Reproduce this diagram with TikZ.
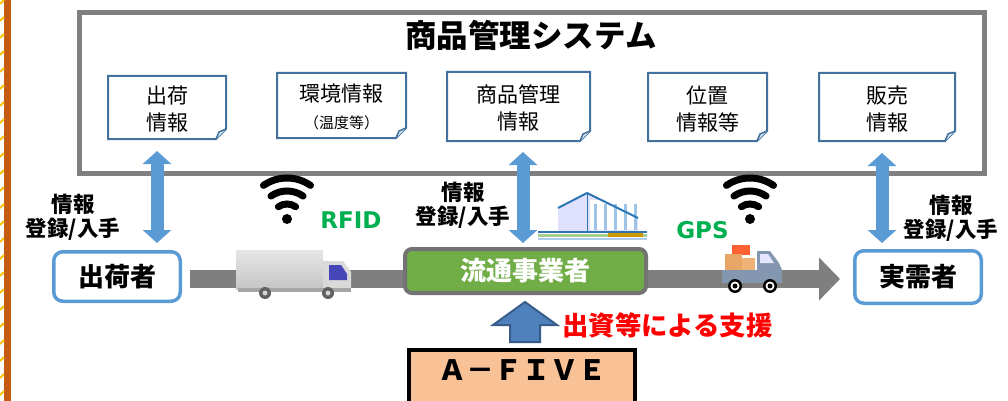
\documentclass[tikz,border=0pt]{standalone}
\usepackage{fontspec}
\setmainfont{Noto Sans CJK JP}
\newfontfamily\tagfont{DejaVu Sans}
\usepackage{tikz}
\usetikzlibrary{arrows.meta,positioning,calc}
\definecolor{framegray}{HTML}{808080}
\definecolor{memoblue}{HTML}{41719C}
\definecolor{linkblue}{HTML}{5B9BD5}
\definecolor{bandgray}{HTML}{7F7F7F}
\definecolor{bizgreen}{HTML}{70AD47}
\definecolor{taggreen}{HTML}{00B050}
\definecolor{fundblue}{HTML}{4F81BD}
\definecolor{funddark}{HTML}{385D8A}
\definecolor{peach}{HTML}{F8C196}
\definecolor{rust}{HTML}{C55A11}
\definecolor{gold}{HTML}{FFC000}
\definecolor{truckblue}{HTML}{8497B0}
\definecolor{roofblue}{HTML}{2E75B6}
\tikzset{
  memo/.style 2 args={minimum width=#1, minimum height=#2, inner sep=0pt, outer sep=0pt, align=center,
    font=\fontsize{21pt}{27pt}\selectfont, execute at begin node={\rule{0pt}{48pt}}},
  memoline/.style={draw=memoblue, line width=2pt},
  actor/.style={draw=linkblue, line width=3.5pt, rounded corners=9pt, fill=white, inner sep=0pt,
    font=\fontsize{26pt}{30pt}\selectfont\bfseries},
  infotext/.style={align=center, inner sep=0pt, font=\fontsize{21.5pt}{24pt}\selectfont\bfseries},
  tagtext/.style={inner sep=0pt, text=taggreen, font=\fontsize{23pt}{26pt}\selectfont\tagfont\bfseries},
  infoarrow/.style={linkblue, line width=13pt,
    {Triangle[length=13pt,width=28pt]}-{Triangle[length=13pt,width=28pt]}},
  flowband/.style={bandgray, line width=18pt, -{Triangle[length=21pt,width=42pt]}},
  signal/.style={line width=7pt, line cap=round},
}

\begin{document}
\begin{tikzpicture}[x=1pt, y=-1pt]
  \useasboundingbox (0,0) rectangle (1008,401);

  \fill[rust] (4,0) rectangle (11,401);
  \foreach \y in {0,17,...,400}
    \draw[gold, line width=2pt] (0,\y+4) -- (4,\y);

  \node[draw=framegray, line width=5pt, minimum width=905pt, minimum height=161pt] (sys) at (532,93) {};
  \node[inner sep=0pt, font=\fontsize{31.5pt}{34pt}\selectfont\bfseries] (title) at (531,35) {商品管理システム};

  \node[memo={118pt}{63pt}] (m1) at (167,107.5) {出荷\\情報};
  \node[memo={129pt}{65pt}] (m2) at (341.5,105.5) {環境情報\\{\fontsize{15pt}{17pt}\selectfont （温度等）}};
  \node[memo={143pt}{69pt}] (m3) at (518.5,106.5) {商品管理\\情報};
  \node[memo={119pt}{68pt}] (m4) at (707.5,107) {位置\\情報等};
  \node[memo={136pt}{68pt}] (m5) at (887,107) {販売\\情報};
  \foreach \m in {m1,m2,m3,m4,m5} {
    \draw[memoline] (\m.north west) -- (\m.north east) -- ([yshift=10pt]\m.south east)
      -- ([xshift=-10pt]\m.south east) -- (\m.south west) -- cycle;
    \draw[memoline, line width=1.5pt, fill=linkblue!25] ([xshift=-10pt]\m.south east)
      -- ([xshift=-7pt,yshift=7pt]\m.south east) -- ([yshift=10pt]\m.south east);
  }

  \node[actor, minimum width=126.5pt, minimum height=49.5pt] (shipper) at (117,276.5) {出荷者};
  \node[actor, minimum width=126.5pt, minimum height=52.5pt] (consumer) at (918,277) {実需者};

  \draw[flowband] ([xshift=8pt,yshift=-2.5pt]shipper.east) -- ([xshift=-13pt,yshift=-2pt]consumer.west);

  \node[draw=gray!90!black, line width=4pt, rounded corners=7pt, fill=bizgreen, text=white, inner sep=0pt,
    minimum width=241pt, minimum height=44pt, font=\fontsize{26pt}{30pt}\selectfont\bfseries] (dist) at (525.5,271) {流通事業者};

  \draw[infoarrow] ([xshift=-10pt,yshift=-12pt]m1.south) -- ([xshift=40pt,yshift=7pt]shipper.north);
  \draw[infoarrow] ([xshift=4.5pt,yshift=-11pt]m3.south) -- ([xshift=-2.5pt,yshift=4pt]dist.north);
  \draw[infoarrow] ([xshift=-5pt,yshift=-12pt]m5.south) -- ([xshift=-36pt,yshift=6pt]consumer.north);

  \node[infotext] (info1) at (73,217) {情報\\登録/入手};
  \node[infotext] (info2) at (463,205) {情報\\登録/入手};
  \node[infotext] (info3) at (951,218) {情報\\登録/入手};

  \node[tagtext] (rfid) at (351,220) {RFID};
  \node[tagtext] (gps) at (702.5,230) {GPS};

  % radio waves
  \foreach \cx/\cy in {287/219, 750/219} {
    \fill (\cx,\cy) circle (5pt);
    \foreach \r in {15,28,41}
      \draw[signal] ($(\cx,\cy)+(-125:\r)$) arc[start angle=-125, end angle=-55, radius=\r];
  }

  % box truck
  \begin{scope}[shift={(235,248)}]
    \shade[top color=gray!20, bottom color=gray!45] (1,2) rectangle (88,41);
    \fill[gray!30] (88,13) -- (108,13) -- (116,24) -- (116,41) -- (88,41) -- cycle;
    \fill[blue!45!gray] (94,17) -- (106,17) -- (112,26) -- (112,32) -- (94,32) -- cycle;
    \fill[gray!70] (3,40) rectangle (116,44);
    \foreach \wx in {30,93} {
      \fill[gray!75!black] (\wx,45) circle (6pt);
      \fill[gray!35] (\wx,45) circle (2.5pt);
    }
  \end{scope}

  % pickup with parcels
  \begin{scope}[shift={(722,243)}]
    \fill[red!55!orange!80] (10,2) rectangle (28,12);
    \fill[brown!55!orange!70] (3,11) rectangle (20,27);
    \fill[brown!45!orange!60] (20,15) rectangle (33,27);
    \fill[truckblue] (35,27) -- (35,8) -- (48,8) -- (57,20) -- (60,27) -- cycle;
    \fill[blue!10] (38,11) -- (46,11) -- (52,20) -- (38,20) -- cycle;
    \fill[truckblue] (0,27) rectangle (60,40);
    \foreach \wx in {13,48} {
      \fill[black] (\wx,43) circle (7pt);
      \fill[white] (\wx,43) circle (4.5pt);
      \fill[black] (\wx,43) circle (2.5pt);
    }
  \end{scope}

  % warehouse
  \begin{scope}[shift={(538,192)}]
    \fill[blue!12] (20,16) -- (49,1) -- (100,26) -- (100,40) -- (20,40) -- cycle;
    \fill[white] (52,8) rectangle (96,38);
    \foreach \wx in {56,66,...,96}
      \fill[linkblue!60] (\wx,12) rectangle (\wx+3,38);
    \draw[roofblue, line width=2pt] (20,16) -- (49,1) -- (100,26);
    \draw[roofblue, line width=1pt] (49,1) -- (49,40);
    \fill[roofblue] (0,39) rectangle (109,41);
    \fill[bizgreen!60] (0,42) rectangle (109,45);
    \fill[linkblue!50] (0,46) rectangle (109,48);
    \fill[gold!80!black] (70,41) rectangle (105,45);
  \end{scope}

  \node[draw=black, line width=4pt, fill=peach, inner sep=0pt, minimum width=226pt, minimum height=60pt,
    text height=20pt, text depth=20pt, font=\fontsize{28pt}{30pt}\selectfont\bfseries] (afive) at (522,380) {Ａ－ＦＩＶＥ};

  \draw[fill=fundblue, draw=funddark, line width=2pt] ([xshift=-12pt,yshift=6pt]afive.north) -- ++(0,-17) -- ++(-17,0)
    -- ([xshift=-0.5pt,yshift=-7pt]dist.south) -- ++(32,23) -- ++(-17,0) -- ++(0,17) -- cycle;
  \node[inner sep=0pt, text=red, font=\fontsize{26.4pt}{30pt}\selectfont\bfseries] (fund) at (667.5,325) {出資等による支援};
\end{tikzpicture}
\end{document}
